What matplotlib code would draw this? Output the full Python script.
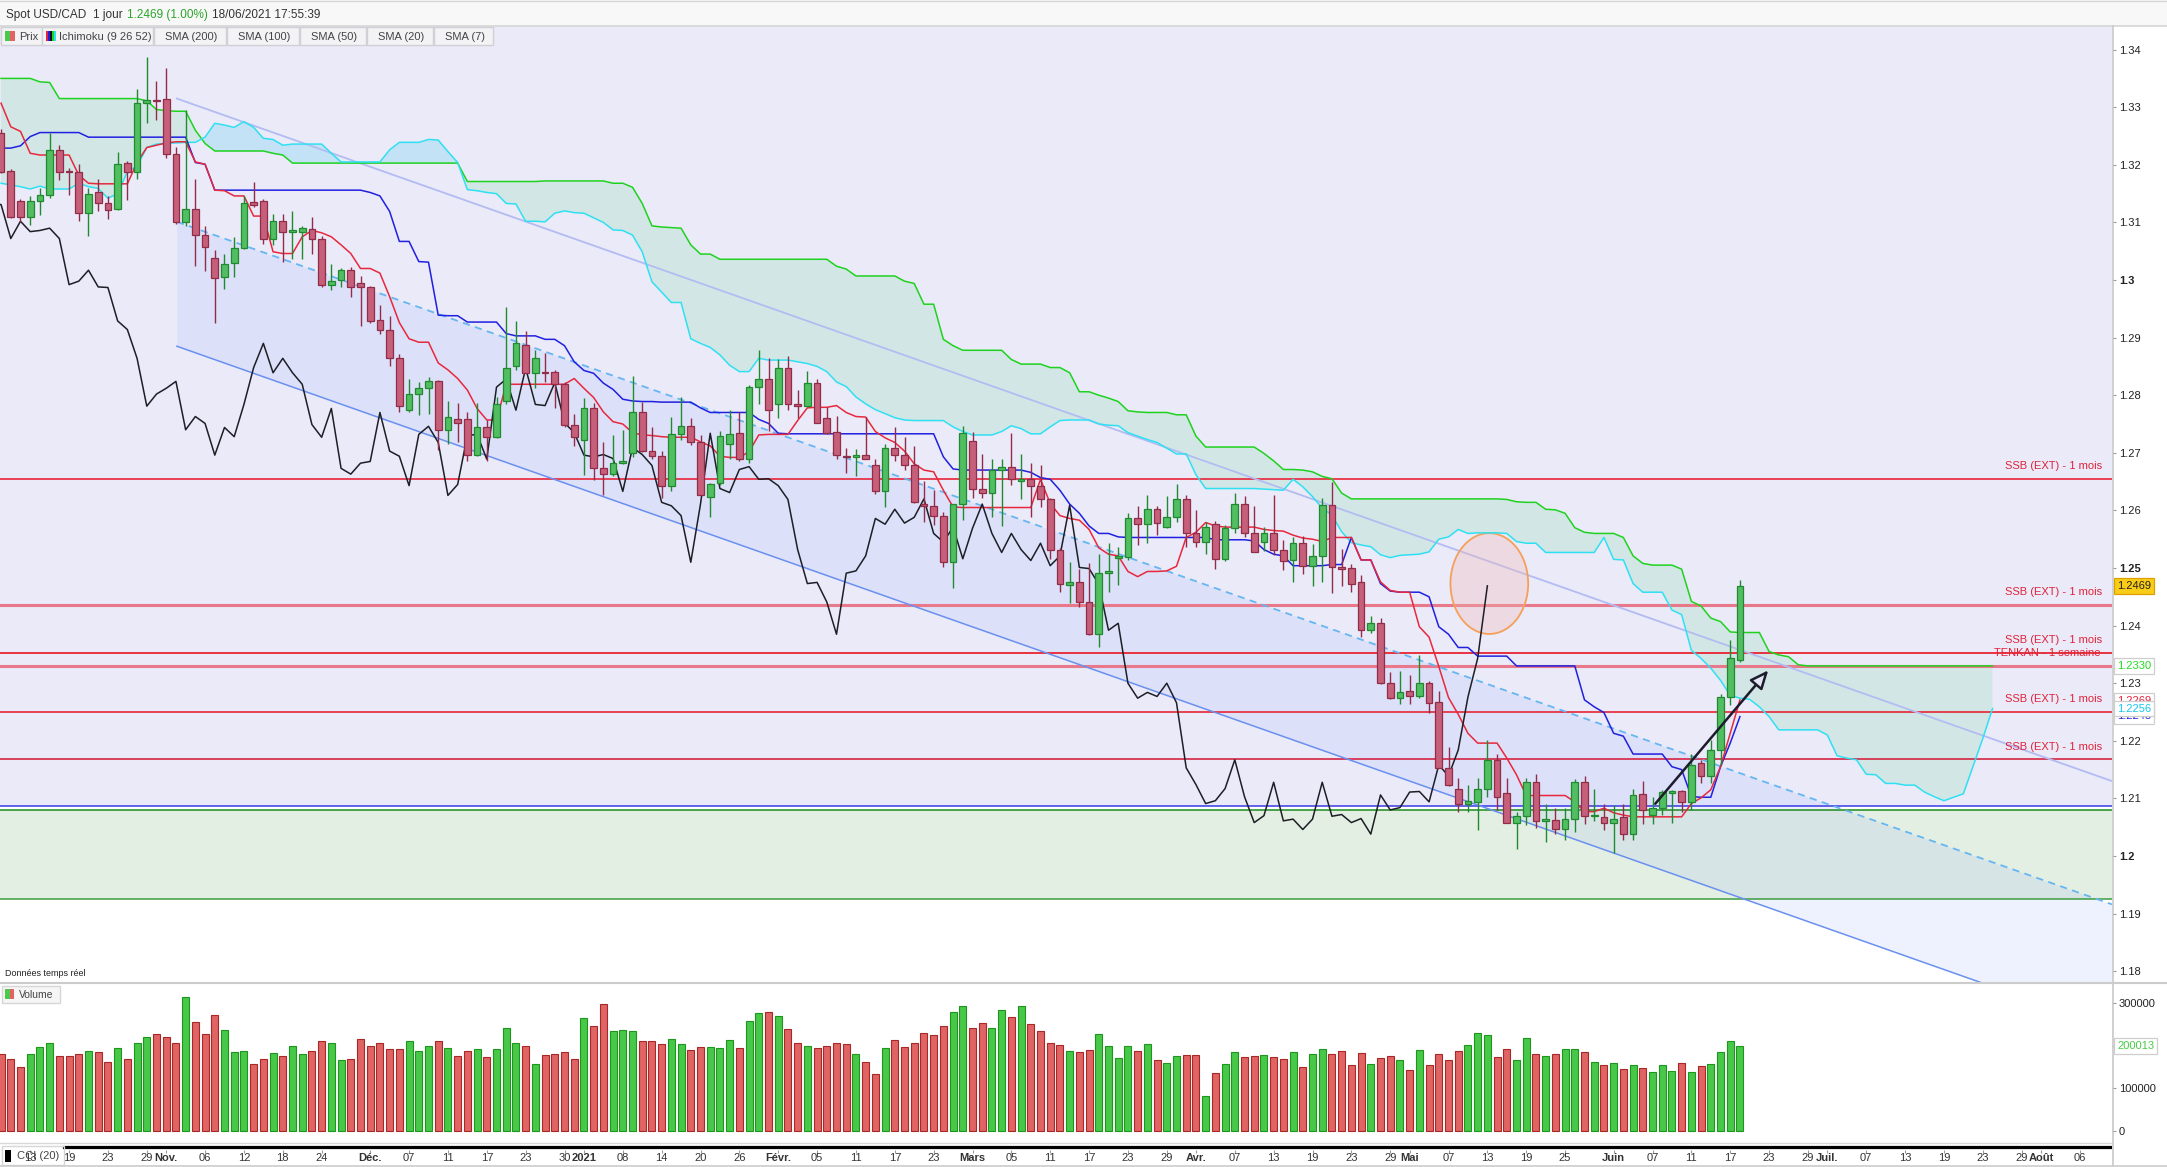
import numpy as np
import pandas as pd
import matplotlib
matplotlib.use("Agg")
import matplotlib.pyplot as plt
import matplotlib.transforms as mtrans
from matplotlib.patches import Rectangle, Ellipse, FancyArrowPatch
from matplotlib.lines import Line2D

plt.rcParams['font.family'] = ['Liberation Sans', 'DejaVu Sans']

# ------------------------------------------------------------------ data
session_start = '2020-10-08'
session_end = '2021-08-13'
holidays = ['2020-12-25', '2021-01-01']

opens = [
1.3255, 1.3189, 1.3137, 1.3109, 1.3138, 1.3148, 1.3225, 1.3190, 1.3187, 1.3116,
1.3152, 1.3133, 1.3123, 1.3203, 1.3188, 1.3307, 1.3312, 1.3314, 1.3218, 1.3100,
1.3123, 1.3079, 1.3038, 1.3005, 1.3029, 1.3055, 1.3135, 1.3138, 1.3072, 1.3102,
1.3084, 1.3084, 1.3088, 1.3072, 1.2992, 1.3000, 1.3017, 1.2994, 1.2987, 1.2931,
1.2914, 1.2864, 1.2774, 1.2802, 1.2812, 1.2824, 1.2740, 1.2758, 1.2758, 1.2696,
1.2744, 1.2728, 1.2790, 1.2850, 1.2888, 1.2839, 1.2841, 1.2840, 1.2819, 1.2748,
1.2723, 1.2777, 1.2673, 1.2663, 1.2682, 1.2699, 1.2770, 1.2704, 1.2694, 1.2643,
1.2732, 1.2746, 1.2718, 1.2624, 1.2647, 1.2716, 1.2734, 1.2690, 1.2815, 1.2828,
1.2784, 1.2847, 1.2784, 1.2782, 1.2822, 1.2760, 1.2736, 1.2694, 1.2693, 1.2697,
1.2678, 1.2633, 1.2709, 1.2697, 1.2678, 1.2611, 1.2607, 1.2591, 1.2510, 1.2611,
1.2720, 1.2638, 1.2631, 1.2671, 1.2676, 1.2651, 1.2655, 1.2643, 1.2619, 1.2532,
1.2471, 1.2475, 1.2441, 1.2385, 1.2491, 1.2517, 1.2519, 1.2586, 1.2576, 1.2602,
1.2571, 1.2588, 1.2620, 1.2561, 1.2545, 1.2576, 1.2516, 1.2569, 1.2611, 1.2560,
1.2546, 1.2560, 1.2532, 1.2514, 1.2543, 1.2504, 1.2520, 1.2609, 1.2501, 1.2500,
1.2476, 1.2393, 1.2404, 1.2301, 1.2274, 1.2286, 1.2277, 1.2300, 1.2267, 1.2153,
1.2117, 1.2091, 1.2094, 1.2117, 1.2167, 1.2109, 1.2058, 1.2070, 1.2128, 1.2061,
1.2063, 1.2046, 1.2064, 1.2128, 1.2069, 1.2067, 1.2058, 1.2067, 1.2038, 1.2107,
1.2072, 1.2084, 1.2110, 1.2112, 1.2094, 1.2161, 1.2139, 1.2184, 1.2276, 1.2341]

highs = [
1.3262, 1.3193, 1.3141, 1.3145, 1.3159, 1.3255, 1.3234, 1.3195, 1.3201, 1.3159,
1.3175, 1.3145, 1.3222, 1.3207, 1.3332, 1.3388, 1.3345, 1.3368, 1.3231, 1.3296,
1.3175, 1.3094, 1.3052, 1.3046, 1.3074, 1.3146, 1.3170, 1.3140, 1.3115, 1.3115,
1.3119, 1.3094, 1.3109, 1.3076, 1.3028, 1.3020, 1.3022, 1.3007, 1.2990, 1.2957,
1.2937, 1.2872, 1.2829, 1.2823, 1.2831, 1.2826, 1.2790, 1.2786, 1.2770, 1.2786,
1.2757, 1.2797, 1.2954, 1.2929, 1.2911, 1.2879, 1.2873, 1.2843, 1.2823, 1.2767,
1.2795, 1.2786, 1.2719, 1.2731, 1.2740, 1.2833, 1.2789, 1.2745, 1.2704, 1.2763,
1.2797, 1.2760, 1.2731, 1.2647, 1.2737, 1.2775, 1.2771, 1.2818, 1.2878, 1.2864,
1.2862, 1.2868, 1.2809, 1.2842, 1.2829, 1.2779, 1.2764, 1.2708, 1.2707, 1.2762,
1.2690, 1.2716, 1.2744, 1.2727, 1.2711, 1.2651, 1.2635, 1.2597, 1.2611, 1.2746,
1.2736, 1.2698, 1.2689, 1.2689, 1.2735, 1.2698, 1.2683, 1.2679, 1.2621, 1.2534,
1.2510, 1.2498, 1.2508, 1.2524, 1.2544, 1.2537, 1.2595, 1.2607, 1.2627, 1.2607,
1.2625, 1.2646, 1.2627, 1.2600, 1.2580, 1.2582, 1.2575, 1.2631, 1.2625, 1.2608,
1.2571, 1.2627, 1.2549, 1.2554, 1.2556, 1.2542, 1.2621, 1.2650, 1.2533, 1.2507,
1.2488, 1.2417, 1.2414, 1.2320, 1.2321, 1.2315, 1.2349, 1.2303, 1.2286, 1.2190,
1.2136, 1.2123, 1.2135, 1.2201, 1.2177, 1.2135, 1.2077, 1.2135, 1.2142, 1.2091,
1.2083, 1.2083, 1.2134, 1.2139, 1.2117, 1.2090, 1.2089, 1.2090, 1.2117, 1.2130,
1.2103, 1.2115, 1.2115, 1.2115, 1.2177, 1.2167, 1.2201, 1.2281, 1.2375, 1.2479]

lows = [
1.3186, 1.3107, 1.3101, 1.3096, 1.3113, 1.3142, 1.3174, 1.3148, 1.3102, 1.3077,
1.3120, 1.3106, 1.3122, 1.3139, 1.3175, 1.3273, 1.3277, 1.3211, 1.3097, 1.3093,
1.3025, 1.3016, 1.2926, 1.2984, 1.3006, 1.3053, 1.3127, 1.3063, 1.3060, 1.3031,
1.3036, 1.3036, 1.3045, 1.2988, 1.2983, 1.2987, 1.2970, 1.2921, 1.2926, 1.2907,
1.2850, 1.2770, 1.2771, 1.2766, 1.2767, 1.2705, 1.2716, 1.2718, 1.2686, 1.2694,
1.2686, 1.2725, 1.2785, 1.2844, 1.2838, 1.2812, 1.2823, 1.2777, 1.2745, 1.2711,
1.2661, 1.2653, 1.2627, 1.2659, 1.2680, 1.2692, 1.2702, 1.2690, 1.2621, 1.2633,
1.2722, 1.2714, 1.2626, 1.2588, 1.2644, 1.2690, 1.2686, 1.2682, 1.2785, 1.2737,
1.2760, 1.2775, 1.2760, 1.2780, 1.2751, 1.2732, 1.2689, 1.2665, 1.2659, 1.2689,
1.2628, 1.2606, 1.2685, 1.2670, 1.2612, 1.2579, 1.2575, 1.2502, 1.2466, 1.2584,
1.2621, 1.2621, 1.2589, 1.2573, 1.2644, 1.2619, 1.2588, 1.2606, 1.2515, 1.2459,
1.2440, 1.2433, 1.2384, 1.2362, 1.2459, 1.2471, 1.2514, 1.2540, 1.2544, 1.2557,
1.2569, 1.2579, 1.2537, 1.2537, 1.2524, 1.2498, 1.2513, 1.2561, 1.2554, 1.2527,
1.2530, 1.2523, 1.2497, 1.2475, 1.2490, 1.2468, 1.2475, 1.2457, 1.2469, 1.2459,
1.2381, 1.2387, 1.2298, 1.2272, 1.2264, 1.2264, 1.2275, 1.2249, 1.2152, 1.2122,
1.2077, 1.2077, 1.2045, 1.2102, 1.2080, 1.2057, 1.2012, 1.2054, 1.2048, 1.2025,
1.2039, 1.2028, 1.2041, 1.2055, 1.2061, 1.2045, 1.2005, 1.2027, 1.2027, 1.2055,
1.2055, 1.2072, 1.2057, 1.2077, 1.2080, 1.2126, 1.2126, 1.2158, 1.2262, 1.2336]

closes = [
1.3188, 1.3110, 1.3109, 1.3138, 1.3147, 1.3225, 1.3187, 1.3187, 1.3116, 1.3150,
1.3133, 1.3122, 1.3201, 1.3188, 1.3307, 1.3312, 1.3310, 1.3218, 1.3100, 1.3123,
1.3079, 1.3058, 1.3003, 1.3027, 1.3055, 1.3133, 1.3131, 1.3072, 1.3102, 1.3084,
1.3086, 1.3090, 1.3072, 1.2992, 1.2998, 1.3017, 1.2988, 1.2987, 1.2929, 1.2914,
1.2864, 1.2781, 1.2802, 1.2812, 1.2824, 1.2740, 1.2763, 1.2751, 1.2696, 1.2744,
1.2728, 1.2784, 1.2848, 1.2890, 1.2839, 1.2864, 1.2839, 1.2819, 1.2749, 1.2727,
1.2777, 1.2673, 1.2663, 1.2682, 1.2685, 1.2770, 1.2703, 1.2694, 1.2643, 1.2732,
1.2746, 1.2718, 1.2626, 1.2645, 1.2730, 1.2732, 1.2689, 1.2814, 1.2828, 1.2774,
1.2847, 1.2784, 1.2782, 1.2822, 1.2752, 1.2735, 1.2696, 1.2693, 1.2697, 1.2690,
1.2633, 1.2709, 1.2697, 1.2678, 1.2614, 1.2608, 1.2591, 1.2510, 1.2611, 1.2734,
1.2638, 1.2631, 1.2671, 1.2676, 1.2654, 1.2655, 1.2643, 1.2619, 1.2532, 1.2473,
1.2475, 1.2441, 1.2385, 1.2491, 1.2495, 1.2521, 1.2586, 1.2576, 1.2602, 1.2578,
1.2588, 1.2620, 1.2560, 1.2545, 1.2571, 1.2516, 1.2569, 1.2611, 1.2560, 1.2527,
1.2560, 1.2532, 1.2513, 1.2543, 1.2504, 1.2521, 1.2609, 1.2501, 1.2499, 1.2472,
1.2392, 1.2404, 1.2300, 1.2274, 1.2284, 1.2277, 1.2300, 1.2266, 1.2153, 1.2124,
1.2091, 1.2096, 1.2117, 1.2167, 1.2103, 1.2058, 1.2070, 1.2128, 1.2061, 1.2064,
1.2046, 1.2064, 1.2128, 1.2069, 1.2072, 1.2058, 1.2065, 1.2038, 1.2106, 1.2080,
1.2084, 1.2111, 1.2112, 1.2094, 1.2158, 1.2139, 1.2184, 1.2276, 1.2343, 1.2469]

tenkan = [
1.3307, 1.3266, 1.3258, 1.3220, 1.3217, 1.3217, 1.3217, 1.3217, 1.3182, 1.3168,
1.3167, 1.3167, 1.3167, 1.3167, 1.3204, 1.3230, 1.3234, 1.3238, 1.3240, 1.3240,
1.3205, 1.3201, 1.3156, 1.3155, 1.3146, 1.3146, 1.3111, 1.3111, 1.3049, 1.3046,
1.3046, 1.3075, 1.3086, 1.3082, 1.3075, 1.3061, 1.3046, 1.3020, 1.3020, 1.3012,
1.2971, 1.2926, 1.2898, 1.2892, 1.2892, 1.2856, 1.2844, 1.2829, 1.2809, 1.2777,
1.2757, 1.2757, 1.2819, 1.2819, 1.2819, 1.2819, 1.2819, 1.2819, 1.2819, 1.2829,
1.2812, 1.2796, 1.2771, 1.2754, 1.2750, 1.2735, 1.2731, 1.2730, 1.2728, 1.2727,
1.2727, 1.2727, 1.2719, 1.2712, 1.2694, 1.2692, 1.2692, 1.2702, 1.2731, 1.2732,
1.2732, 1.2732, 1.2756, 1.2778, 1.2779, 1.2779, 1.2782, 1.2770, 1.2763, 1.2762,
1.2737, 1.2726, 1.2718, 1.2703, 1.2681, 1.2670, 1.2667, 1.2635, 1.2606, 1.2605,
1.2605, 1.2605, 1.2605, 1.2605, 1.2605, 1.2605, 1.2605, 1.2654, 1.2612, 1.2591,
1.2586, 1.2583, 1.2567, 1.2535, 1.2524, 1.2521, 1.2494, 1.2485, 1.2494, 1.2494,
1.2495, 1.2503, 1.2553, 1.2562, 1.2579, 1.2573, 1.2571, 1.2571, 1.2571, 1.2571,
1.2567, 1.2565, 1.2564, 1.2557, 1.2552, 1.2550, 1.2546, 1.2553, 1.2553, 1.2553,
1.2514, 1.2514, 1.2476, 1.2461, 1.2458, 1.2458, 1.2398, 1.2380, 1.2329, 1.2275,
1.2246, 1.2213, 1.2196, 1.2196, 1.2196, 1.2170, 1.2141, 1.2105, 1.2105, 1.2105,
1.2105, 1.2105, 1.2094, 1.2077, 1.2077, 1.2083, 1.2075, 1.2071, 1.2068, 1.2068,
1.2068, 1.2068, 1.2068, 1.2068, 1.2091, 1.2101, 1.2115, 1.2155, 1.2213, 1.2271]

kijun = [
1.3229, 1.3229, 1.3233, 1.3249, 1.3256, 1.3256, 1.3256, 1.3256, 1.3256, 1.3248,
1.3248, 1.3248, 1.3248, 1.3248, 1.3248, 1.3248, 1.3248, 1.3248, 1.3248, 1.3248,
1.3204, 1.3201, 1.3156, 1.3156, 1.3156, 1.3156, 1.3156, 1.3156, 1.3156, 1.3156,
1.3156, 1.3156, 1.3156, 1.3156, 1.3156, 1.3156, 1.3156, 1.3156, 1.3152, 1.3146,
1.3119, 1.3067, 1.3067, 1.3032, 1.3031, 1.2939, 1.2938, 1.2938, 1.2927, 1.2927,
1.2927, 1.2927, 1.2907, 1.2903, 1.2903, 1.2903, 1.2897, 1.2897, 1.2886, 1.2858,
1.2843, 1.2838, 1.2821, 1.2810, 1.2793, 1.2790, 1.2789, 1.2789, 1.2788, 1.2788,
1.2788, 1.2788, 1.2778, 1.2770, 1.2770, 1.2770, 1.2770, 1.2770, 1.2758, 1.2751,
1.2734, 1.2733, 1.2733, 1.2733, 1.2733, 1.2733, 1.2733, 1.2733, 1.2733, 1.2733,
1.2733, 1.2733, 1.2733, 1.2733, 1.2733, 1.2733, 1.2733, 1.2693, 1.2672, 1.2670,
1.2670, 1.2670, 1.2670, 1.2670, 1.2670, 1.2670, 1.2666, 1.2657, 1.2654, 1.2635,
1.2611, 1.2595, 1.2573, 1.2560, 1.2560, 1.2554, 1.2553, 1.2553, 1.2553, 1.2553,
1.2553, 1.2553, 1.2553, 1.2553, 1.2553, 1.2549, 1.2549, 1.2549, 1.2549, 1.2547,
1.2532, 1.2524, 1.2521, 1.2504, 1.2504, 1.2504, 1.2504, 1.2506, 1.2506, 1.2553,
1.2514, 1.2514, 1.2473, 1.2460, 1.2458, 1.2458, 1.2458, 1.2450, 1.2398, 1.2385,
1.2362, 1.2362, 1.2347, 1.2347, 1.2347, 1.2347, 1.2330, 1.2330, 1.2330, 1.2330,
1.2330, 1.2330, 1.2330, 1.2271, 1.2259, 1.2249, 1.2213, 1.2208, 1.2177, 1.2177,
1.2177, 1.2177, 1.2155, 1.2150, 1.2103, 1.2102, 1.2102, 1.2155, 1.2196, 1.2242]

senkou_a = [
1.3168, 1.3165, 1.3162, 1.3158, 1.3163, 1.3158, 1.3158, 1.3158, 1.3168, 1.3162,
1.3159, 1.3142, 1.3150, 1.3188, 1.3198, 1.3230, 1.3236, 1.3237, 1.3238, 1.3239,
1.3239, 1.3248, 1.3272, 1.3269, 1.3265, 1.3275, 1.3265, 1.3246, 1.3244, 1.3234,
1.3236, 1.3236, 1.3236, 1.3236, 1.3220, 1.3205, 1.3205, 1.3205, 1.3205, 1.3205,
1.3226, 1.3239, 1.3239, 1.3239, 1.3244, 1.3243, 1.3223, 1.3204, 1.3157, 1.3155,
1.3152, 1.3150, 1.3133, 1.3132, 1.3102, 1.3102, 1.3101, 1.3116, 1.3120, 1.3117,
1.3116, 1.3108, 1.3100, 1.3087, 1.3086, 1.3078, 1.3049, 1.2997, 1.2979, 1.2961,
1.2961, 1.2898, 1.2890, 1.2883, 1.2870, 1.2852, 1.2841, 1.2841, 1.2864, 1.2861,
1.2861, 1.2861, 1.2858, 1.2855, 1.2850, 1.2841, 1.2823, 1.2815, 1.2797, 1.2785,
1.2775, 1.2768, 1.2761, 1.2757, 1.2756, 1.2756, 1.2756, 1.2756, 1.2745, 1.2737,
1.2731, 1.2731, 1.2731, 1.2737, 1.2747, 1.2742, 1.2733, 1.2733, 1.2745, 1.2756,
1.2757, 1.2757, 1.2757, 1.2750, 1.2748, 1.2747, 1.2735, 1.2729, 1.2723, 1.2718,
1.2708, 1.2698, 1.2698, 1.2662, 1.2638, 1.2638, 1.2638, 1.2638, 1.2638, 1.2638,
1.2637, 1.2636, 1.2635, 1.2654, 1.2641, 1.2624, 1.2604, 1.2592, 1.2563, 1.2544,
1.2540, 1.2537, 1.2523, 1.2518, 1.2522, 1.2523, 1.2524, 1.2528, 1.2550, 1.2554,
1.2567, 1.2560, 1.2561, 1.2561, 1.2561, 1.2560, 1.2546, 1.2543, 1.2543, 1.2527,
1.2527, 1.2527, 1.2527, 1.2527, 1.2527, 1.2553, 1.2515, 1.2514, 1.2473, 1.2458,
1.2458, 1.2458, 1.2427, 1.2419, 1.2357, 1.2343, 1.2326, 1.2305, 1.2279, 1.2274,
1.2272, 1.2259, 1.2242, 1.2219, 1.2219, 1.2219, 1.2219, 1.2219, 1.2210, 1.2174,
1.2170, 1.2167, 1.2142, 1.2141, 1.2126, 1.2126, 1.2123, 1.2123, 1.2111, 1.2103,
1.2096, 1.2102, 1.2108, 1.2156, 1.2204, 1.2256]

senkou_b = [
1.3350, 1.3350, 1.3350, 1.3350, 1.3344, 1.3343, 1.3315, 1.3315, 1.3315, 1.3315,
1.3315, 1.3315, 1.3315, 1.3315, 1.3315, 1.3311, 1.3296, 1.3294, 1.3293, 1.3293,
1.3260, 1.3237, 1.3224, 1.3224, 1.3224, 1.3224, 1.3224, 1.3224, 1.3220, 1.3217,
1.3203, 1.3203, 1.3203, 1.3203, 1.3203, 1.3203, 1.3203, 1.3203, 1.3203, 1.3203,
1.3203, 1.3203, 1.3203, 1.3203, 1.3203, 1.3203, 1.3203, 1.3203, 1.3171, 1.3171,
1.3171, 1.3171, 1.3171, 1.3171, 1.3171, 1.3171, 1.3172, 1.3172, 1.3172, 1.3172,
1.3172, 1.3172, 1.3172, 1.3168, 1.3168, 1.3161, 1.3133, 1.3094, 1.3092, 1.3091,
1.3090, 1.3061, 1.3045, 1.3045, 1.3036, 1.3036, 1.3036, 1.3036, 1.3036, 1.3036,
1.3036, 1.3036, 1.3036, 1.3036, 1.3036, 1.3036, 1.3024, 1.3019, 1.3007, 1.3007,
1.3007, 1.3007, 1.3007, 1.2998, 1.2994, 1.2958, 1.2958, 1.2897, 1.2886, 1.2878,
1.2878, 1.2878, 1.2878, 1.2878, 1.2862, 1.2854, 1.2854, 1.2854, 1.2848, 1.2848,
1.2839, 1.2806, 1.2806, 1.2800, 1.2795, 1.2789, 1.2773, 1.2771, 1.2770, 1.2770,
1.2770, 1.2766, 1.2766, 1.2729, 1.2710, 1.2710, 1.2710, 1.2710, 1.2710, 1.2710,
1.2699, 1.2686, 1.2671, 1.2671, 1.2670, 1.2667, 1.2659, 1.2655, 1.2630, 1.2620,
1.2620, 1.2620, 1.2620, 1.2620, 1.2620, 1.2620, 1.2620, 1.2620, 1.2620, 1.2620,
1.2620, 1.2620, 1.2620, 1.2620, 1.2620, 1.2619, 1.2615, 1.2614, 1.2614, 1.2602,
1.2601, 1.2595, 1.2570, 1.2562, 1.2560, 1.2560, 1.2560, 1.2553, 1.2521, 1.2508,
1.2505, 1.2505, 1.2505, 1.2498, 1.2442, 1.2434, 1.2413, 1.2407, 1.2389, 1.2388,
1.2388, 1.2388, 1.2355, 1.2349, 1.2346, 1.2332, 1.2330, 1.2330, 1.2330, 1.2330,
1.2330, 1.2330, 1.2330, 1.2330, 1.2330, 1.2330, 1.2330, 1.2330, 1.2330, 1.2330,
1.2330, 1.2330, 1.2330, 1.2330, 1.2330, 1.2330]

volume = [
179900, 168900, 149300, 179900, 196400, 205800, 175200, 175200, 179900, 187000,
184600, 161000, 194000, 168100, 205800, 220000, 227000, 220000, 205800, 314200,
255300, 227000, 271800, 236400, 184600, 187000, 156300, 168100, 182200, 175200,
198700, 179900, 187000, 210500, 205800, 165700, 168100, 215200, 198700, 205800,
191700, 191700, 210500, 187000, 198700, 210500, 194000, 175200, 187000, 191700,
172800, 191700, 241200, 205800, 198700, 156300, 177500, 179900, 184600, 168100,
264700, 245900, 297700, 234100, 236400, 234100, 210500, 210500, 203500, 215200,
203500, 189300, 196400, 196400, 194000, 212900, 194000, 257700, 276500, 278900,
269400, 238800, 205800, 198700, 194000, 198700, 205800, 203500, 179900, 161000,
132800, 194000, 212900, 196400, 205800, 229400, 224700, 245900, 278900, 293000,
241200, 252900, 241200, 283600, 267100, 293000, 250600, 234100, 205800, 201100,
187000, 184600, 189300, 227000, 198700, 170500, 198700, 187000, 203500, 165700,
158700, 175200, 177500, 177500, 80900, 135100, 156300, 184600, 172800, 175200,
177500, 172800, 168100, 184600, 149300, 179900, 191700, 179900, 187000, 154000,
182200, 156300, 170500, 175200, 165700, 142200, 189300, 154000, 179900, 165700,
187000, 201100, 229400, 224700, 172800, 191700, 165700, 217600, 179900, 175200,
179900, 191700, 191700, 184600, 161000, 154000, 158700, 144500, 154000, 146900,
137500, 154000, 139800, 158700, 137500, 151600, 156300, 184600, 210500, 200013]

chikou_shift = 26

# horizontal levels drawn on the chart
ssb_ext_levels = [1.2655, 1.2436, 1.2353, 1.2250, 1.2168]
ssb_ext_colors = ['#e8253a', '#e8788a', '#e8323f', '#e62535', '#d42442']
ssb_ext_widths = [1.2, 2.2, 1.4, 1.2, 1.2]
tenkan_week_level = 1.2330
zone_blue_level = 1.2086
green_zone = (1.1925, 1.2080)

# regression channel (start / end bar, upper / middle / lower price)
channel_x = [18.1, 217.3]
channel_upper = [1.3315, 1.2130]
channel_mid = [1.3101, 1.1916]
channel_low = [1.2885, 1.1700]

# annotations
ellipse_center = (153.2, 1.2473)
ellipse_size = (8.0, 0.0175)
arrow_from = (170.1, 1.2087)
arrow_to = (182.1, 1.2326)

price_ticks = [1.18, 1.19, 1.20, 1.21, 1.22, 1.23, 1.24, 1.25, 1.26, 1.27,
               1.28, 1.29, 1.30, 1.31, 1.32, 1.33, 1.34]
price_tick_labels = ['1.18', '1.19', '1.2', '1.21', '1.22', '1.23', '1.24', '1.25',
                     '1.26', '1.27', '1.28', '1.29', '1.3', '1.31', '1.32', '1.33', '1.34']
bold_price_labels = ['1.2', '1.25', '1.3']
volume_ticks = [0, 100000, 200000, 300000]
volume_tick_labels = ['0', '100000', '200000', '300000']

tick_dates = ['2020-10-13', '2020-10-19', '2020-10-23', '2020-10-29', '2020-11-02',
              '2020-11-06', '2020-11-12', '2020-11-18', '2020-11-24', '2020-12-01',
              '2020-12-07', '2020-12-11', '2020-12-17', '2020-12-23', '2020-12-30',
              '2021-01-04', '2021-01-08', '2021-01-14', '2021-01-20', '2021-01-26',
              '2021-02-01', '2021-02-05', '2021-02-11', '2021-02-17', '2021-02-23',
              '2021-03-01', '2021-03-05', '2021-03-11', '2021-03-17', '2021-03-23',
              '2021-03-29', '2021-04-01', '2021-04-07', '2021-04-13', '2021-04-19',
              '2021-04-23', '2021-04-29', '2021-05-03', '2021-05-07', '2021-05-13',
              '2021-05-19', '2021-05-25', '2021-06-01', '2021-06-07', '2021-06-11',
              '2021-06-17', '2021-06-23', '2021-06-29', '2021-07-01', '2021-07-07',
              '2021-07-13', '2021-07-19', '2021-07-23', '2021-07-29', '2021-08-02',
              '2021-08-06']
tick_labels = ['13', '19', '23', '29', 'Nov.', '06', '12', '18', '24', 'Déc.',
               '07', '11', '17', '23', '30', '2021', '08', '14', '20', '26',
               'Févr.', '05', '11', '17', '23', 'Mars', '05', '11', '17', '23',
               '29', 'Avr.', '07', '13', '19', '23', '29', 'Mai', '07', '13',
               '19', '25', 'Juin', '07', '11', '17', '23', '29', 'Juil.', '07',
               '13', '19', '23', '29', 'Août', '06']
bold_tick_labels = ['Nov.', 'Déc.', '2021', 'Févr.', 'Mars', 'Avr.', 'Mai', 'Juin', 'Juil.', 'Août']

last_price = 1.2469
last_volume = 200013
tag_values = [(1.2269, '#e8203a'), (1.2243, '#2424e0'), (1.2256, '#12c8ee')]

# ------------------------------------------------------------------ calendar
days = pd.bdate_range(session_start, session_end)
days = days[~days.isin(pd.to_datetime(holidays))]
index_of = {d: i for i, d in enumerate(days)}
tick_pos = [index_of[pd.Timestamp(d)] for d in tick_dates]

o = np.array(opens); h = np.array(highs); l = np.array(lows); c = np.array(closes)
n = len(o)
xb = np.arange(n)
ssa = np.array(senkou_a); ssb = np.array(senkou_b)
xc = np.arange(len(ssa))

# ------------------------------------------------------------------ figure
W, H = 2167, 1167
AXR = 2112
fig = plt.figure(figsize=(W / 100, H / 100), dpi=100)
fig.patch.set_facecolor('white')


def frac(x0, y0, x1, y1):
    return [x0 / W, 1 - y1 / H, (x1 - x0) / W, (y1 - y0) / H]


def fx(px):
    return px / W


def fy(py):
    return 1 - py / H


XMIN, XMAX = -0.11, 217.3
ax = fig.add_axes(frac(0, 26, AXR, 983))
axv = fig.add_axes(frac(0, 983, AXR, 1143))
axd = fig.add_axes(frac(0, 1143, AXR, 1150))
for a in (ax, axv, axd):
    a.set_xlim(XMIN, XMAX)
    for s in a.spines.values():
        s.set_visible(False)
    a.set_facecolor('white')
    a.patch.set_alpha(0.0)
ax.set_ylim(1.17795, 1.3441)
axv.set_ylim(-29000, 348000)
axd.set_ylim(0, 1)

# ---- background zones
ax.axhspan(zone_blue_level, 1.40, color='#eaeaf8', lw=0, zorder=0.1)
ax.axhspan(green_zone[0], green_zone[1], color='#e3efe2', lw=0, zorder=0.2)
ax.fill_between(channel_x, channel_mid, channel_low, color=(0.55, 0.65, 1.0),
                alpha=0.14, lw=0, zorder=0.5)

# ---- ichimoku cloud
ax.fill_between(xc, ssa, ssb, where=ssb >= ssa, interpolate=True,
                color='#b3e3cb', alpha=0.42, lw=0, zorder=0.6)
ax.fill_between(xc, ssa, ssb, where=ssa > ssb, interpolate=True,
                color='#95d9f3', alpha=0.45, lw=0, zorder=0.6)

# ---- horizontal levels
ax.axhline(zone_blue_level, color='#3a3ae6', lw=1.1, zorder=1.4)
ax.axhline(green_zone[1], color='#1e8a1e', lw=1.1, zorder=1.4)
ax.axhline(green_zone[0], color='#3d9c3d', lw=1.1, zorder=1.4)
for lev, col, lw in zip(ssb_ext_levels, ssb_ext_colors, ssb_ext_widths):
    ax.axhline(lev, color=col, lw=lw, zorder=1.5)
ax.axhline(tenkan_week_level, color='#e8788a', lw=2.2, zorder=1.5)

blend = mtrans.blended_transform_factory(ax.transAxes, ax.transData)
lab_tr = mtrans.offset_copy(blend, fig=fig, x=0, y=12.5, units='dots')
for lev in ssb_ext_levels:
    ax.text(2102 / AXR, lev, 'SSB (EXT) - 1 mois', transform=lab_tr, ha='right',
            va='center', fontsize=8, color='#e0233a', zorder=6)
ax.text(2101 / AXR, tenkan_week_level, 'TENKAN - 1 semaine', transform=lab_tr,
        ha='right', va='center', fontsize=8, color='#e0233a', zorder=6)

# ---- regression channel
ax.plot(channel_x, channel_upper, color='#b3bcf2', lw=1.3, zorder=1.6)
ax.plot(channel_x, channel_mid, color='#66b6f2', lw=1.3, ls=(0, (4, 3)), zorder=1.6)
ax.plot(channel_x, channel_low, color='#6a90f0', lw=1.1, zorder=1.6)

# ---- annotation ellipse (behind lines)
ax.add_patch(Ellipse(ellipse_center, ellipse_size[0], ellipse_size[1],
                     fc=(0.95, 0.72, 0.70, 0.32), ec='#f5a05a', lw=1.3, zorder=2.0))

# ---- ichimoku lines
ax.plot(xc, ssb, color='#1fd21f', lw=1.1, zorder=2.2)
ax.plot(xc, ssa, color='#2fe0f2', lw=1.1, zorder=2.2)
ax.plot(xb, kijun, color='#2020e0', lw=1.1, zorder=2.4)
ax.plot(xb, tenkan, color='#e8283c', lw=1.1, zorder=2.5)
ax.plot(xb - chikou_shift, c, color='#1e1e26', lw=1.1, zorder=2.6)

# ---- candles
up = c >= o
face = np.where(up, '#52be62', '#c6607a')
edge = np.where(up, '#218a30', '#922c48')
ax.vlines(xb, l, h, colors=edge, lw=1.0, zorder=3)
body_lo = np.minimum(o, c)
body_h = np.maximum(np.abs(c - o), 0.00008)
ax.bar(xb, body_h, width=0.7, bottom=body_lo, color=face, edgecolor=edge,
       linewidth=0.9, zorder=3.1)

# ---- arrow
ax.add_patch(FancyArrowPatch(arrow_from, arrow_to,
                             arrowstyle='-|>,head_length=0.8,head_width=0.35',
                             mutation_scale=14, lw=1.8, ec='#1c1c2c', fc='#e4e6f6',
                             zorder=4.5))

# ---- price axis
ax.yaxis.tick_right()
ax.set_yticks(price_ticks)
ax.set_yticklabels(price_tick_labels)
for lbl in ax.get_yticklabels():
    if lbl.get_text() in bold_price_labels:
        lbl.set_fontweight('bold')
ax.tick_params(axis='y', length=3, width=0.8, colors='#9a9a9a', labelcolor='#222222',
               labelsize=8, pad=2)
ax.set_xticks([])


def tag(axis, trans, val, s, tc, fc, ec, z):
    axis.text(1 + 5 / AXR, val, s, transform=trans, ha='left', va='center', fontsize=8,
              color=tc, zorder=z, clip_on=False,
              bbox=dict(boxstyle='square,pad=0.25', fc=fc, ec=ec, lw=0.9))


for k, (val, col) in enumerate(tag_values):
    tag(ax, blend, val, f'{val:.4f}', col, 'white', '#cfcfcf', 7 + k)
tag(ax, blend, tenkan_week_level, f'{senkou_b[-1]:.4f}', '#22dd22', 'white', '#cfcfcf', 10)
tag(ax, blend, last_price, f'{last_price:.4f}', '#222222', '#f9cc16', '#dea000', 11)

# ---- volume
vface = np.where(up, '#48c848', '#e06464')
vedge = np.where(up, '#1e961e', '#a82828')
axv.bar(xb, volume, width=0.72, color=vface, edgecolor=vedge, linewidth=0.8, zorder=2)
axv.yaxis.tick_right()
axv.set_yticks(volume_ticks)
axv.set_yticklabels(volume_tick_labels)
axv.tick_params(axis='y', length=3, width=0.8, colors='#9a9a9a', labelcolor='#222222',
                labelsize=8, pad=2)
axv.set_xticks([])
vblend = mtrans.blended_transform_factory(axv.transAxes, axv.transData)
tag(axv, vblend, last_volume, str(last_volume), '#44cc44', 'white', '#cfcfcf', 10)

# ---- date strip
axd.set_yticks([])
axd.axhline(0.5, xmin=64 / AXR, xmax=1.0, color='black', lw=2.3)
axd.set_xticks(tick_pos)
axd.set_xticklabels(tick_labels)
for lbl in axd.get_xticklabels():
    if lbl.get_text() in bold_tick_labels:
        lbl.set_fontweight('bold')
axd.tick_params(axis='x', length=2, width=0.8, colors='#9a9a9a', labelcolor='#333333',
                labelsize=8, pad=0.5)

# ------------------------------------------------------------------ chrome
def frect(x0, y0, x1, y1, **kw):
    fig.add_artist(Rectangle((fx(x0), fy(y1)), (x1 - x0) / W, (y1 - y0) / H,
                             transform=fig.transFigure, **kw))


def fline(x0, y0, x1, y1, **kw):
    fig.add_artist(Line2D([fx(x0), fx(x1)], [fy(y0), fy(y1)], transform=fig.transFigure, **kw))


def ftext(x, y, s, **kw):
    fig.text(fx(x), fy(y), s, **kw)


# title bar
frect(0, 0, W, 26, fc='#f8f8f8', ec='none', zorder=5)
fline(0, 26, W, 26, color='#d6d6d6', lw=1.2, zorder=6)
fline(0, 0.5, W, 0.5, color='#d6d6d6', lw=1.0, zorder=6)
ftext(6, 15, 'Spot USD/CAD', fontsize=8.5, color='#333333', va='center', zorder=7)
ftext(93, 15, '1 jour', fontsize=8.5, color='#333333', va='center', zorder=7)
ftext(127, 15, '1.2469 (1.00%)', fontsize=8.5, color='#2aa52a', va='center', zorder=7)
ftext(212, 15, '18/06/2021 17:55:39', fontsize=8.5, color='#333333', va='center', zorder=7)

# pane separators
fline(AXR + 0.5, 26, AXR + 0.5, 1166, color='#c8c8c8', lw=1.2, zorder=6)
fline(0, 983, W, 983, color='#cccccc', lw=1.5, zorder=6)
fline(0, 1143, AXR, 1143, color='#d8d8d8', lw=1.0, zorder=6)
fline(0, 1165.5, W, 1165.5, color='#cccccc', lw=1.2, zorder=6)

# indicator legend row
legend_boxes = [(0, 41.5), (41.5, 153), (153, 226), (226, 299), (299, 366), (366, 433), (433, 493)]
for x0, x1 in legend_boxes:
    frect(x0 + 0.5, 27.5, x1, 45, fc='#f3f3f5', ec='#d0d0d6', lw=1.0, zorder=5)
frect(4.5, 31, 9.5, 41, fc='#4cc84c', ec='none', zorder=6)
frect(9.5, 31, 14.5, 41, fc='#e06464', ec='none', zorder=6)
ftext(19, 36.5, 'Prix', fontsize=8, color='#444444', va='center', zorder=7)
for k, col in enumerate(['#e8203a', '#2020e0', '#111111', '#1fd21f', '#2fe0f2']):
    frect(45.5 + 2 * k, 31, 47.5 + 2 * k, 41, fc=col, ec='none', zorder=6)
ftext(59, 36.5, 'Ichimoku (9 26 52)', fontsize=8, color='#444444', va='center', zorder=7)
for (x0, x1), name in zip(legend_boxes[2:], ['SMA (200)', 'SMA (100)', 'SMA (50)', 'SMA (20)', 'SMA (7)']):
    ftext((x0 + x1) / 2 + 2, 36.5, name, fontsize=8, color='#444444', va='center',
          ha='center', zorder=7)

# misc labels
ftext(5, 974, 'Données temps réel', fontsize=6.5, color='#222222', va='center', zorder=7)
frect(1.5, 985.5, 60, 1003, fc='#f6f6f6', ec='#d6d6d6', lw=1.0, zorder=5)
frect(5, 989, 9.5, 999, fc='#4cc84c', ec='none', zorder=6)
frect(9.5, 989, 14, 999, fc='#e06464', ec='none', zorder=6)
ftext(19, 994.5, 'Volume', fontsize=7.5, color='#444444', va='center', zorder=7)
frect(1.5, 1145.5, 64, 1165, fc='none', ec='#d6d6d6', lw=1.0, zorder=5)
frect(5, 1150, 11, 1162, fc='#000000', ec='none', zorder=6)
ftext(17, 1156, 'CCI (20)', fontsize=8, color='#444444', va='center', zorder=7)

fig.savefig('out.png', dpi=100, facecolor='white')
